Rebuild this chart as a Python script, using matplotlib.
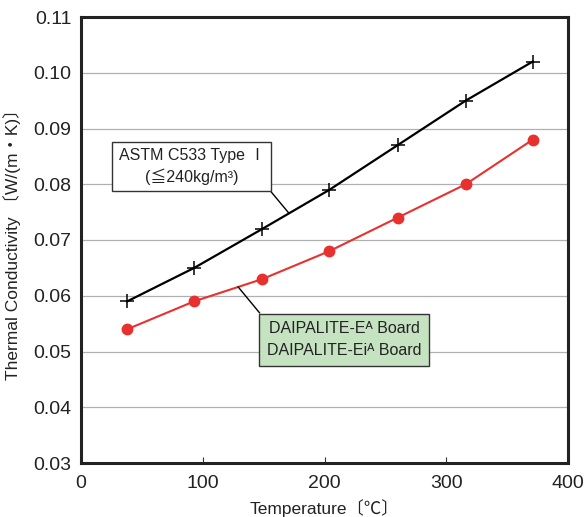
import matplotlib
matplotlib.use('Agg')
import matplotlib.pyplot as plt

plt.rcParams['font.family'] = ['Liberation Sans', 'Noto Sans CJK JP', 'DejaVu Sans']

temps = [38, 93, 149, 204, 260, 316, 371]
astm = [0.059, 0.065, 0.072, 0.079, 0.087, 0.095, 0.102]
daipalite = [0.054, 0.059, 0.063, 0.068, 0.074, 0.080, 0.088]
yticks = [0.03, 0.04, 0.05, 0.06, 0.07, 0.08, 0.09, 0.10, 0.11]
xticks = [0, 100, 200, 300, 400]

fig = plt.figure(figsize=(5.87, 5.17), dpi=100)
ax = fig.add_axes([81/587, 54/517, 487/587, 446/517])

for y in yticks[1:-1]:
    ax.axhline(y, color='#b0b0b0', lw=0.9, zorder=0)

ax.plot(temps, daipalite, color='#e8312f', marker='o', markersize=7.5, lw=1.5, zorder=3)
ax.plot(temps, astm, color='black', marker='+', markersize=10, mew=1.1, lw=1.6, zorder=3)

ax.set_xlim(0, 400)
ax.set_ylim(0.03, 0.11)
ax.set_xticks(xticks)
ax.set_yticks(yticks)
ax.set_yticklabels(['%.2f' % v for v in yticks])
ax.tick_params(axis='x', direction='in', length=4, labelsize=14, pad=9, color='#333333',
               labelcolor='#222222')
ax.tick_params(axis='y', length=0, labelsize=14, pad=7, labelcolor='#222222')
for s in ax.spines.values():
    s.set_linewidth(2.2)
    s.set_color('#222222')

ax.set_xlabel('Temperature〔℃〕', fontsize=12.5, labelpad=5, color='#222222')
ax.set_ylabel('Thermal Conductivity 〔W/(m・K)〕', fontsize=12.5, labelpad=9, color='#222222')

# annotation boxes
ax.annotate('ASTM C533 Type Ⅰ\n(≦240kg/m³)', xy=(170.8, 0.0748), xytext=(91, 0.0832),
            ha='center', va='center', fontsize=11.5, color='#222222', linespacing=1.35,
            bbox=dict(boxstyle='square,pad=0.4', fc='white', ec='#333333', lw=1),
            arrowprops=dict(arrowstyle='-', color='black', lw=1,
                            shrinkA=0, shrinkB=0, relpos=(1, 0)), zorder=4)
ax.annotate('DAIPALITE-Eᴬ Board\nDAIPALITE-Eiᴬ Board', xy=(129, 0.0616),
            xytext=(216, 0.0521), ha='center', va='center', fontsize=11.5, color='#222222',
            linespacing=1.55,
            bbox=dict(boxstyle='square,pad=0.5', fc='#c6e3c1', ec='#333333', lw=1),
            arrowprops=dict(arrowstyle='-', color='black', lw=1,
                            shrinkA=0, shrinkB=0, relpos=(0, 1)), zorder=4)

fig.savefig('out.png', dpi=100)
